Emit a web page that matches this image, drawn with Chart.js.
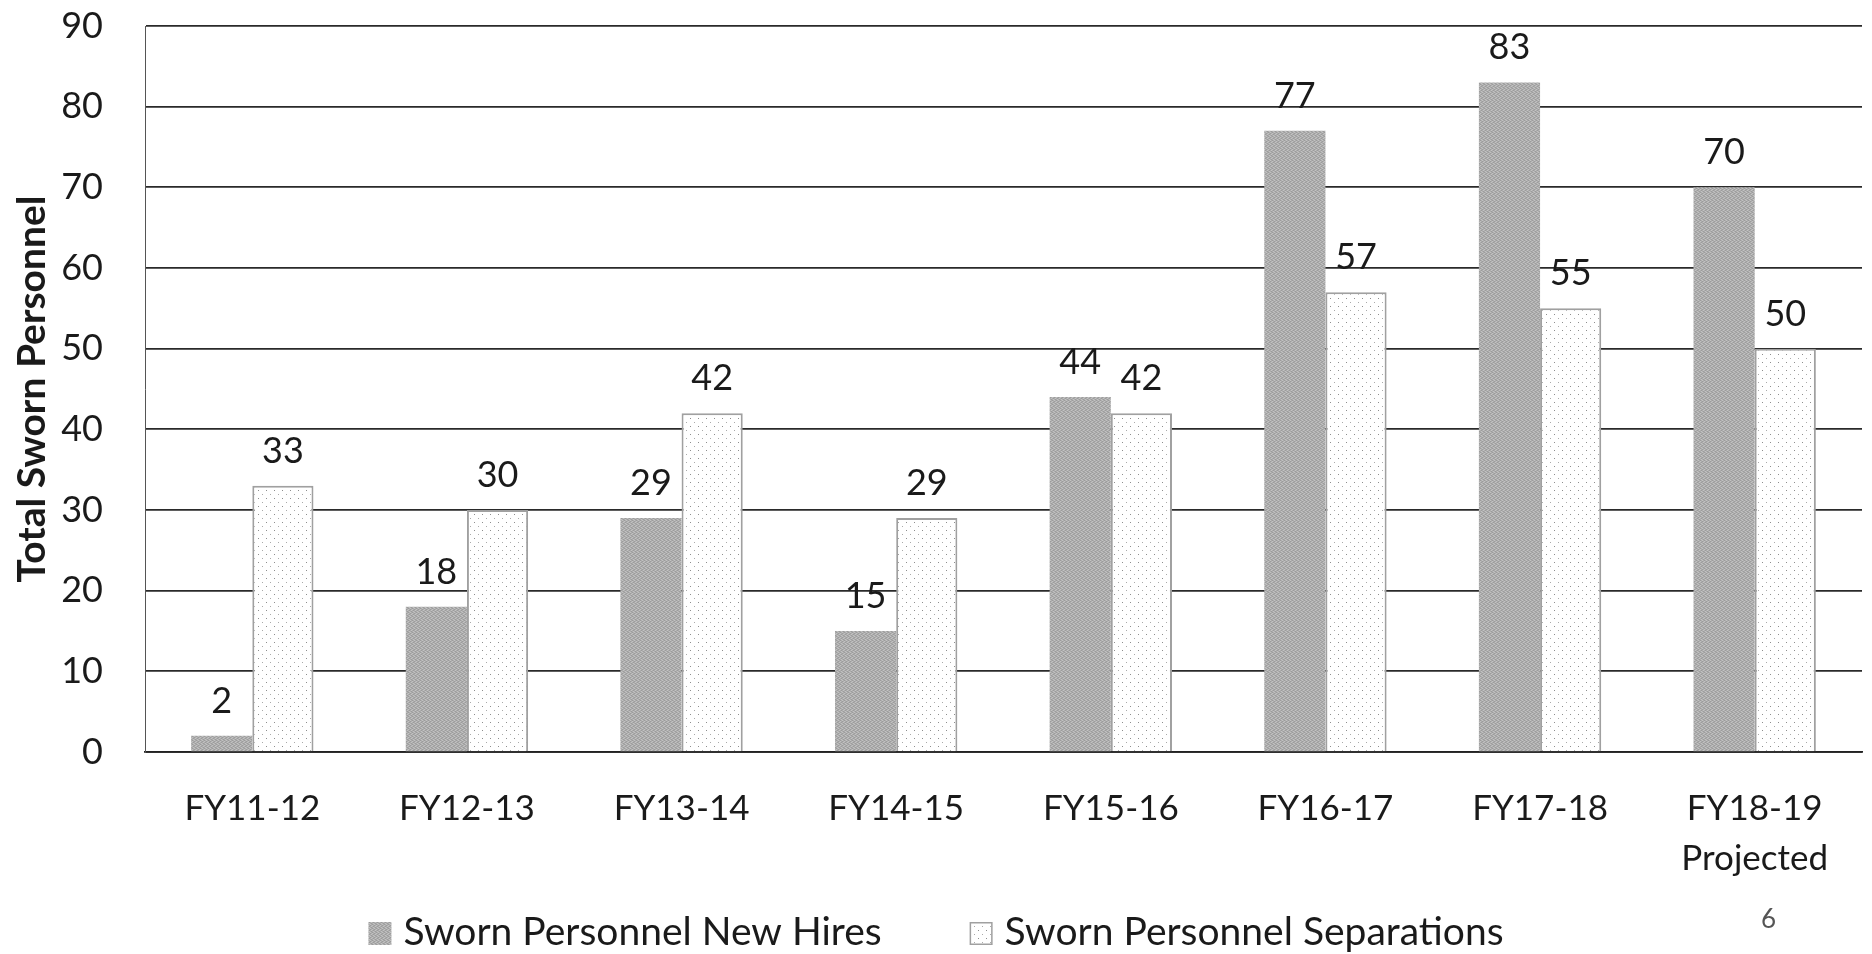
<!DOCTYPE html>
<html>
<head>
<meta charset="utf-8">
<title>Sworn Personnel</title>
<script src="https://cdn.jsdelivr.net/npm/chart.js@4.4.1/dist/chart.umd.min.js"></script>
<style>
  html, body { margin: 0; padding: 0; background: #ffffff; }
  #wrap { position: relative; width: 1872px; height: 954px; }
  #pageNum {
    position: absolute; left: 1761px; top: 902px;
    font: 26px Lato, 'Open Sans', sans-serif; color: #555;
  }
</style>
</head>
<body>
<div id="wrap">
  <canvas id="personnelChart" width="1872" height="954"></canvas>
  <div id="pageNum">6</div>
</div>
<script>
// Data
const categories = ['FY11-12', 'FY12-13', 'FY13-14', 'FY14-15', 'FY15-16', 'FY16-17', 'FY17-18', ['FY18-19', 'Projected']];
const newHires = [2, 18, 29, 15, 44, 77, 83, 70];
const separations = [33, 30, 42, 29, 42, 57, 55, 50];
const seriesNames = ['Sworn Personnel New Hires', 'Sworn Personnel Separations'];
const yMin = 0, yMax = 90, yStep = 10;

const FONT = "Lato, 'Open Sans', sans-serif";
Chart.defaults.font.family = FONT;
Chart.defaults.color = '#1a1a1a';

// Halftone-like grey fill for the new hires bars
function makeGreyTexture() {
    const c = document.createElement('canvas');
    c.width = 4; c.height = 4;
    const g = c.getContext('2d');
    g.fillStyle = '#adadad';
    g.fillRect(0, 0, 4, 4);
    g.fillStyle = '#9c9c9c';
    g.fillRect(0, 0, 1, 1); g.fillRect(2, 1, 1, 1); g.fillRect(1, 2, 1, 1); g.fillRect(3, 3, 1, 1);
    g.fillStyle = '#c2c2c2';
    g.fillRect(2, 0, 1, 1); g.fillRect(0, 1, 1, 1); g.fillRect(3, 2, 1, 1); g.fillRect(1, 3, 1, 1);
    return g.createPattern(c, 'repeat');
}

// Sparse dots on white for the separations bars
function makeDotPattern() {
    const c = document.createElement('canvas');
    c.width = 8; c.height = 8;
    const g = c.getContext('2d');
    g.fillStyle = '#ffffff';
    g.fillRect(0, 0, 8, 8);
    g.fillStyle = '#8e8e8e';
    g.fillRect(2, 2, 1, 1);
    g.fillStyle = '#aaaaaa';
    g.fillRect(6, 6, 1, 1);
    return g.createPattern(c, 'repeat');
}

// Value labels above each bar
const valueLabels = {
    id: 'valueLabels',
    afterDatasetsDraw(chart) {
        const ctx = chart.ctx;
        ctx.save();
        ctx.font = '36px ' + FONT;
        ctx.fillStyle = '#1a1a1a';
        ctx.textAlign = 'center';
        ctx.textBaseline = 'alphabetic';
        chart.data.datasets.forEach((ds, i) => {
            chart.getDatasetMeta(i).data.forEach((bar, j) => {
                ctx.fillText(String(ds.data[j]), bar.x, bar.y - 23);
            });
        });
        ctx.restore();
    }
};

// Legend along the bottom, spaced like the original
const bottomLegend = {
    id: 'bottomLegend',
    afterDraw(chart) {
        const ctx = chart.ctx;
        const box = 23, textGap = 12, itemGap = 88, baseline = 945;
        ctx.save();
        ctx.font = '39px ' + FONT;
        const items = chart.data.datasets;
        const widths = items.map(ds => box + textGap + ctx.measureText(ds.label).width);
        const total = widths.reduce((a, b) => a + b, 0) + itemGap * (items.length - 1);
        let x = (chart.width - total) / 2;
        items.forEach((ds, i) => {
            ctx.fillStyle = ds.backgroundColor;
            ctx.fillRect(x, baseline - box, box, box);
            if (ds.borderWidth) {
                ctx.strokeStyle = ds.borderColor;
                ctx.lineWidth = 1.5;
                ctx.strokeRect(x + 0.75, baseline - box + 0.75, box - 1.5, box - 1.5);
            }
            ctx.fillStyle = '#1a1a1a';
            ctx.textBaseline = 'alphabetic';
            ctx.fillText(ds.label, x + box + textGap, baseline);
            x += widths[i] + itemGap;
        });
        ctx.restore();
    }
};

new Chart(document.getElementById('personnelChart'), {
    type: 'bar',
    data: {
        labels: categories,
        datasets: [{
            label: seriesNames[0],
            data: newHires,
            backgroundColor: makeGreyTexture(),
            borderColor: '#9a9a9a',
            borderWidth: 0
        }, {
            label: seriesNames[1],
            data: separations,
            backgroundColor: makeDotPattern(),
            borderColor: '#a0a0a0',
            borderWidth: 2
        }]
    },
    options: {
        responsive: false,
        animation: false,
        layout: { padding: { top: 26, right: 10, bottom: 0, left: 0 } },
        datasets: {
            bar: { categoryPercentage: 0.57, barPercentage: 1.0 }
        },
        plugins: {
            legend: { display: false },
            tooltip: { enabled: false }
        },
        scales: {
            x: {
                grid: { display: false, drawTicks: false },
                border: { display: true, color: '#222', width: 1.8 },
                ticks: {
                    font: { size: 35, lineHeight: 1.45 },
                    color: '#1a1a1a',
                    padding: 31,
                    maxRotation: 0,
                    autoSkip: false
                },
                afterFit: (scale) => { scale.height = 202; }
            },
            y: {
                min: yMin,
                max: yMax,
                grid: { color: '#2a2a2a', lineWidth: 1.7, drawTicks: false },
                border: { display: true, color: '#555', width: 1 },
                ticks: {
                    stepSize: yStep,
                    font: { size: 36 },
                    color: '#1a1a1a',
                    padding: 42
                },
                title: {
                    display: true,
                    text: 'Total Sworn Personnel',
                    font: { size: 39, weight: 'bold', lineHeight: 1.2 },
                    color: '#1a1a1a',
                    padding: { top: 9, bottom: 0 }
                },
                afterFit: (scale) => {
                    scale.width = 145;
                    scale.paddingTop = 0;
                    scale.paddingBottom = 0;
                }
            }
        }
    },
    plugins: [valueLabels, bottomLegend]
});
</script>
</body>
</html>
